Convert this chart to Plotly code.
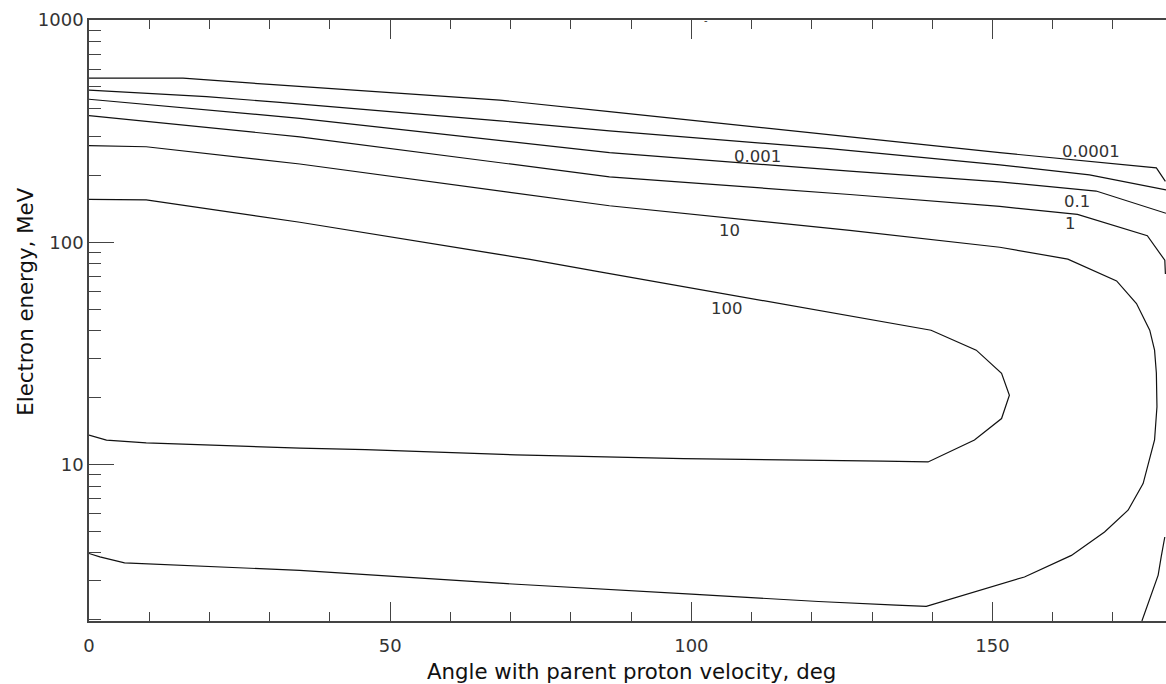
import numpy as np
import plotly.graph_objects as go

# ---- contour levels (angle in deg, electron energy in MeV) ----
angle_0001 = [0, 15.6, 30.0, 68.2, 86.4, 126.3, 151.2, 177.2, 178.7]
energy_0001 = [548, 548, 513, 436, 387, 298, 253, 216, 188]

angle_001 = [0, 19.5, 31.7, 68.2, 86.4, 123.0, 151.2, 166.1, 178.8]
energy_001 = [484, 452, 426, 352, 317, 264, 223, 201, 172]

angle_01 = [0, 35.0, 86.4, 126.3, 151.2, 167.2, 178.8]
energy_01 = [440, 361, 253, 209, 187, 170, 135]

angle_1 = [0, 35.0, 86.4, 126.3, 151.2, 164.1, 175.7, 178.6, 178.7,
           None, 174.8, 176.4, 177.5, 178.0, 178.6]
energy_1 = [371, 298, 197, 164, 145, 133.5, 107, 83, 72,
            None, 1.977, 2.63, 3.18, 3.84, 4.72]

angle_10 = [0, 9.5, 35.0, 86.4, 126.3, 151.2, 162.5, 170.6, 173.9, 176.1,
            176.9, 177.2, 177.3, 176.9, 175.0, 172.5, 168.6, 163.1, 155.3,
            139.0, 134.0, 121.1, 100.0, 69.4, 35.0, 15.1, 5.9, 1.8, 0]
energy_10 = [272, 269, 225, 146, 113, 95, 84, 67, 53, 40.2,
             32.7, 25.8, 18.2, 12.9, 8.21, 6.23, 4.97, 3.9, 3.12,
             2.30, 2.33, 2.42, 2.61, 2.91, 3.34, 3.52, 3.61, 3.84, 3.98]

angle_100 = [0, 9.5, 35.0, 73.2, 84.8, 139.8, 147.3, 151.5, 152.8, 151.5,
             147.0, 139.3, 131.8, 120.8, 98.7, 70.8, 45.9, 35.0, 20.6, 9.5,
             2.9, 0]
energy_100 = [156, 155, 123, 83.7, 73.6, 40.2, 32.7, 25.7, 20.5, 16.1,
              12.9, 10.27, 10.35, 10.42, 10.64, 11.05, 11.68, 11.84, 12.22,
              12.51, 12.87, 13.55]

# contour labels
label_text = ["0.0001", "0.001", "0.1", "1", "10", "100"]
label_angle = [166.3, 111.0, 164.1, 163.0, 106.4, 105.9]
label_energy = [257, 244, 153, 122, 113, 50.5]

# axis ticks
x_ticks = [0, 50, 100, 150]
y_ticks = [10, 100, 1000]
y_ticktext = ["10", "100", "1000"]
y_minor = [d * m for d in (1, 10, 100) for m in range(2, 10)]

FONT = "DejaVu Sans"
LINE = "#111111"
AXIS = "#444444"

fig = go.Figure()
series = [(angle_0001, energy_0001), (angle_001, energy_001),
          (angle_01, energy_01), (angle_1, energy_1),
          (angle_10, energy_10), (angle_100, energy_100)]
for ax, en in series:
    fig.add_trace(go.Scatter(x=ax, y=en, mode="lines",
                             line=dict(color=LINE, width=1.2),
                             connectgaps=False, hoverinfo="skip",
                             showlegend=False))

annotations = []
for t, a, e in zip(label_text, label_angle, label_energy):
    annotations.append(dict(x=a, y=np.log10(e), xref="x", yref="y", text=t,
                            showarrow=False,
                            font=dict(family=FONT, size=16.5, color="#333")))
# axis titles
annotations.append(dict(x=90, y=-0.084, xref="x", yref="paper",
                        text="Angle with parent proton velocity, deg",
                        showarrow=False, xanchor="center", yanchor="middle",
                        font=dict(family=FONT, size=21.3, color="#111")))
annotations.append(dict(x=-0.059, y=0.532, xref="paper", yref="paper",
                        text="Electron energy, MeV", textangle=-90,
                        showarrow=False, xanchor="center", yanchor="middle",
                        font=dict(family=FONT, size=21.3, color="#111")))
annotations.append(dict(x=102.5, y=1.012, xref="x", yref="paper", text="-",
                        showarrow=False,
                        font=dict(family=FONT, size=10, color="#333")))

fig.update_layout(
    width=1166, height=684,
    margin=dict(l=89, r=0, t=20, b=63),
    plot_bgcolor="white", paper_bgcolor="white",
    annotations=annotations,
    xaxis=dict(range=[0, 178.8], tickmode="array", tickvals=x_ticks,
               ticks="inside", ticklen=19, tickwidth=1.2, tickcolor=AXIS,
               showline=True, linecolor=AXIS, linewidth=1.5, mirror="ticks",
               showgrid=False, zeroline=False,
               tickfont=dict(family=FONT, size=18, color="#333"),
               ticklabelstandoff=8,
               minor=dict(dtick=10, ticks="inside", ticklen=9,
                          tickcolor=AXIS, tickwidth=1.2, showgrid=False)),
    yaxis=dict(type="log", range=[np.log10(1.977), 3], tickmode="array",
               tickvals=y_ticks, ticktext=y_ticktext,
               ticks="inside", ticklen=25, tickwidth=1.2, tickcolor=AXIS,
               showline=True, linecolor=AXIS, linewidth=1.5, mirror=False,
               showgrid=False, zeroline=False,
               tickfont=dict(family=FONT, size=18, color="#333"),
               minor=dict(tickmode="array", tickvals=y_minor, ticks="inside",
                          ticklen=12, tickcolor=AXIS, tickwidth=1.2,
                          showgrid=False)),
)

fig.write_html("out.html",
               config={"displayModeBar": False},
               post_script="document.body.style.margin='0px';"
                           "document.body.style.overflow='hidden';")
